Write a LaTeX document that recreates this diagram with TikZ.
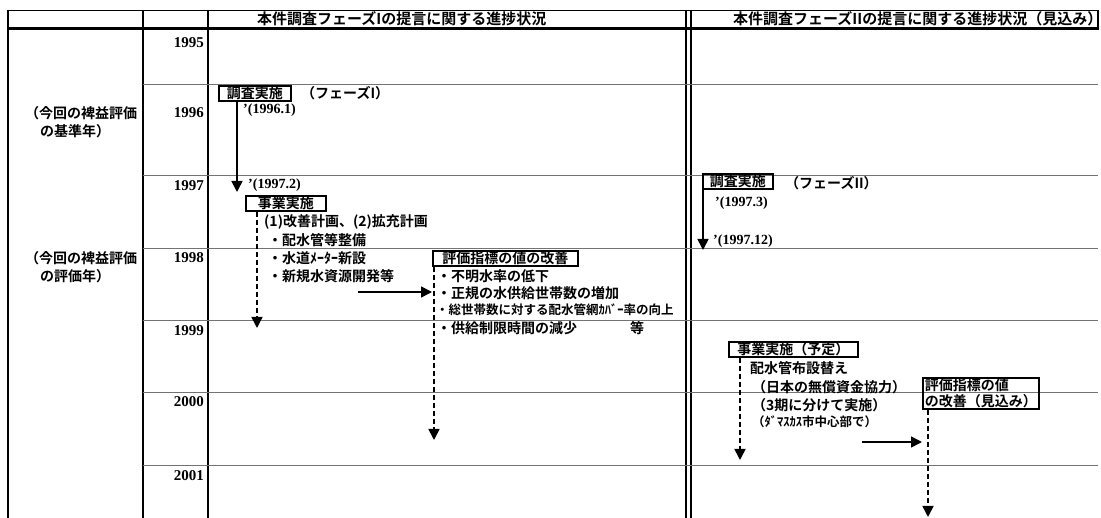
\documentclass[tikz,border=0pt]{standalone}
\usepackage{fontspec}
\setmainfont{Liberation Serif}
\newfontfamily\cjk{Noto Sans CJK JP}[BoldFont={Noto Sans CJK JP Bold}]
\usetikzlibrary{arrows.meta}
\begin{document}
\begin{tikzpicture}[x=1pt,y=-1pt,
  gridline/.style={line width=1.5pt},
  yearline/.style={black!55, line width=0.8pt},
  yearlbl/.style={anchor=east, font=\bfseries\fontsize{15}{17}\selectfont, inner sep=0pt},
  jt/.style={anchor=west, font=\cjk\bfseries\fontsize{14}{16}\selectfont, inner sep=0pt},
  jsmall/.style={jt, font=\cjk\bfseries\fontsize{12.5}{15}\selectfont},
  datelbl/.style={anchor=west, font=\bfseries\fontsize{14}{16}\selectfont, inner sep=0pt},
  hdr/.style={anchor=west, font=\cjk\bfseries\fontsize{15}{17}\selectfont, inner sep=0pt},
  stagebox/.style={draw, line width=1.6pt, font=\cjk\bfseries\fontsize{14}{16}\selectfont, inner xsep=4pt, inner ysep=1pt, anchor=north west},
  arr/.style={line width=1.6pt, -{Triangle[width=11pt,length=11pt]}},
  darr/.style={arr, dash pattern=on 5pt off 3pt},
]
\useasboundingbox (0,0) rectangle (1101,518);

% ---- table frame ----
\draw[line width=0.8pt] (8,10) -- (1098,10);
\draw[line width=3.5pt] (8,28.5) -- (1098,28.5);
\draw[gridline] (1098,10) -- (1098,30);
\draw[line width=2pt] (8,10) -- (8,518);
\draw[gridline] (143,10) -- (143,518);
\draw[gridline] (208,10) -- (208,518);
\draw[gridline] (686,10) -- (686,518);
\draw[gridline] (691,10) -- (691,518);
\foreach \yy in {84,175,248,320,392,465} {
  \draw[yearline] (143,\yy) -- (1098,\yy);
}

% ---- headers ----
\node[hdr] (h1) at (257,19) {本件調査フェーズIの提言に関する進捗状況};
\node[hdr] (h2) at (733,19) {本件調査フェーズIIの提言に関する進捗状況（見込み）};

% ---- years ----
\node[yearlbl] (y95) at (204,43) {1995};
\node[yearlbl] (y96) at (204,113) {1996};
\node[yearlbl] (y97) at (204,186) {1997};
\node[yearlbl] (y98) at (204,258) {1998};
\node[yearlbl] (y99) at (204,331) {1999};
\node[yearlbl] (y00) at (204,402) {2000};
\node[yearlbl] (y01) at (204,476) {2001};

% ---- left labels ----
\node[jt] (l1a) at (25,113) {（今回の裨益評価};
\node[jt] (l1b) at (40,131) {の基準年）};
\node[jt] (l2a) at (25,258) {（今回の裨益評価};
\node[jt] (l2b) at (40,276) {の評価年）};

% ---- Phase I ----
\node[stagebox, minimum width=72pt] (b1) at (218,85) {調査実施};
\node[jt] (f1) at (301,93) {（フェーズI）};
\node[datelbl] (d1) at (243,110) {’(1996.1)};
\coordinate (a1e) at (237,192);
\draw[arr] (a1e |- b1.south) -- (a1e);

\node[datelbl] (d2) at (248,185) {’(1997.2)};
\node[stagebox, minimum width=80pt] (b2) at (245,195) {事業実施};
\node[jt] (t1) at (264,222) {(1)改善計画、(2)拡充計画};
\node[jt] (t2) at (268,240) {・配水管等整備};
\node[jt] (t3) at (268,258) {・水道ﾒｰﾀｰ新設};
\node[jt] (t4) at (268,276) {・新規水資源開発等};
\coordinate (a2e) at (257,328);
\draw[darr] (a2e |- b2.south) -- (a2e);

\node[stagebox, minimum width=145pt] (b3) at (432,250) {評価指標の値の改善};
\coordinate (h1s) at (358,292);
\draw[arr] (h1s) -- (h1s -| b3.west);
\node[jt] (e1) at (437,276) {・不明水率の低下};
\node[jt] (e2) at (437,293) {・正規の水供給世帯数の増加};
\node[jsmall] (e3) at (436,310) {・総世帯数に対する配水管網ｶﾊﾞｰ率の向上};
\node[jt] (e4) at (437,328) {・供給制限時間の減少};
\node[jt] (e5) at (630,328) {等};
\coordinate (a3e) at (434,440);
\draw[darr] (a3e |- b3.south) -- (a3e);

% ---- Phase II ----
\node[stagebox, minimum width=70pt] (b4) at (702,173) {調査実施};
\node[jt] (f2) at (785,183) {（フェーズII）};
\node[datelbl] (d3) at (715,203) {’(1997.3)};
\coordinate (a4e) at (703,250);
\draw[arr] (a4e |- b4.south) -- (a4e);
\node[datelbl] (d4) at (713,241) {’(1997.12)};

\node[stagebox, minimum width=129pt] (b5) at (728,341) {事業実施（予定）};
\node[jt] (p1) at (750,368) {配水管布設替え};
\node[jt] (p2) at (752,387) {（日本の無償資金協力）};
\node[jt] (p3) at (752,405) {（3期に分けて実施）};
\node[jsmall] (p4) at (752,422) {（ﾀﾞﾏｽｶｽ市中心部で）};
\coordinate (a5e) at (740,460);
\draw[darr] (a5e |- b5.south) -- (a5e);

\node[stagebox, align=left, inner xsep=2pt] (b6) at (922,377) {評価指標の値\\の改善（見込み）};
\coordinate (h2s) at (862,442);
\draw[arr] (h2s) -- (h2s -| b6.west);
\coordinate (a6e) at (928,517);
\draw[darr] (a6e |- b6.south) -- (a6e);
\end{tikzpicture}
\end{document}
